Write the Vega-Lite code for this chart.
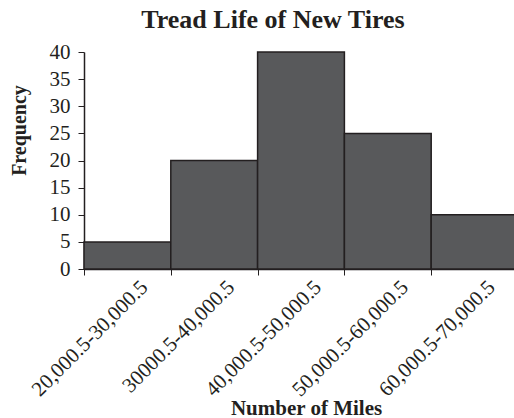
{
  "$schema": "https://vega.github.io/schema/vega-lite/v6.json",
  "autosize": "none",
  "width": 430,
  "height": 217,
  "padding": {"left": 84, "top": 52, "right": 0, "bottom": 149},
  "background": "white",
  "title": {
    "text": "Tread Life of New Tires",
    "font": "Liberation Serif",
    "fontSize": 26,
    "fontWeight": "bold",
    "color": "#231f20",
    "anchor": "middle",
    "frame": "group",
    "dx": -26,
    "dy": 35,
    "baseline": "alphabetic",
    "offset": 22
  },
  "data": {
    "values": [
      {"range": "20,000.5-30,000.5", "frequency": 5},
      {"range": "30000.5-40,000.5", "frequency": 20},
      {"range": "40,000.5-50,000.5", "frequency": 40},
      {"range": "50,000.5-60,000.5", "frequency": 25},
      {"range": "60,000.5-70,000.5", "frequency": 10}
    ]
  },
  "mark": {"type": "bar", "fill": "#58595b", "stroke": "#231f20", "strokeWidth": 1.5},
  "encoding": {
    "x": {
      "field": "range",
      "type": "nominal",
      "sort": null,
      "scale": {"range": [0, 434], "paddingInner": 0, "paddingOuter": 0},
      "axis": {
        "title": "Number of Miles",
        "titleFont": "Liberation Serif",
        "titleFontSize": 21,
        "titleFontWeight": "bold",
        "titleColor": "#231f20",
        "titleX": 222,
        "titleY": 145,
        "titleBaseline": "alphabetic",
        "titleAnchor": "middle",
        "labelFont": "Liberation Serif",
        "labelFontSize": 21,
        "labelColor": "#231f20",
        "labelAngle": -45,
        "labelAlign": "right",
        "labelBaseline": "top",
        "labelOffset": 9,
        "labelPadding": 1,
        "tickBand": "extent",
        "tickSize": 6,
        "tickColor": "#231f20",
        "domainColor": "#231f20",
        "domainWidth": 1.5,
        "grid": false
      }
    },
    "y": {
      "field": "frequency",
      "type": "quantitative",
      "scale": {"domain": [0, 40]},
      "axis": {
        "title": "Frequency",
        "titleFont": "Liberation Serif",
        "titleFontSize": 20,
        "titleFontWeight": "bold",
        "titleColor": "#231f20",
        "titleAngle": -90,
        "titleX": -65,
        "titleY": 78,
        "titleBaseline": "middle",
        "titleAlign": "center",
        "values": [0, 5, 10, 15, 20, 25, 30, 35, 40],
        "labelFont": "Liberation Serif",
        "labelFontSize": 21,
        "labelColor": "#231f20",
        "labelPadding": 8,
        "tickSize": 6,
        "tickColor": "#231f20",
        "domainColor": "#231f20",
        "domainWidth": 1.5,
        "grid": false
      }
    }
  },
  "config": {"view": {"stroke": null}}
}
